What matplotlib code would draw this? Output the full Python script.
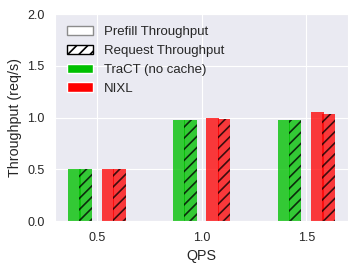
import matplotlib
matplotlib.use('Agg')
import matplotlib.pyplot as plt
import matplotlib.patches as mpatches
import numpy as np
import seaborn as sns

sns.set_style('darkgrid')
plt.rcParams['font.family'] = ['Liberation Sans', 'DejaVu Sans']
plt.rcParams['hatch.linewidth'] = 1.2

# data
qps = [0.5, 1.0, 1.5]
tract_prefill = [0.50, 0.973, 0.976]
tract_request = [0.50, 0.973, 0.975]
nixl_prefill = [0.50, 0.995, 1.056]
nixl_request = [0.50, 0.988, 1.034]

green = '#00c000'
red = '#ff0000'
w = 0.06
x = np.array(qps)

fig = plt.figure(figsize=(3.57, 2.7), dpi=100)
ax = fig.add_axes([0.154, 0.181, 0.821, 0.767])

ax.bar(x - 0.107, tract_prefill, w, color=green, alpha=0.78, linewidth=0)
ax.bar(x - 0.053, tract_request, w, color=green, alpha=0.78, linewidth=0,
       edgecolor='black', hatch='///')
ax.bar(x + 0.053, nixl_prefill, w, color=red, alpha=0.76, linewidth=0)
ax.bar(x + 0.107, nixl_request, w, color=red, alpha=0.76, linewidth=0,
       edgecolor='black', hatch='///')

ax.set_xlim(0.3, 1.7)
ax.set_ylim(0, 2.0)
ax.set_xticks(qps)
ax.set_xticklabels(['0.5', '1.0', '1.5'])
ax.set_yticks([0, 0.5, 1.0, 1.5, 2.0])
ax.tick_params(labelsize=9, colors='0.15', pad=4)
ax.set_xlabel('QPS', fontsize=10.3, color='0.15')
ax.set_ylabel('Throughput (req/s)', fontsize=10.3, color='0.15')

handles = [
    mpatches.Patch(facecolor='white', edgecolor='0.55', label='Prefill Throughput'),
    mpatches.Patch(facecolor='white', edgecolor='black', hatch='///', label='Request Throughput'),
    mpatches.Patch(facecolor=green, label='TraCT (no cache)'),
    mpatches.Patch(facecolor=red, label='NIXL'),
]
ax.legend(handles=handles, loc='upper left', frameon=False, fontsize=9.5)

fig.savefig('out.png', dpi=100)
